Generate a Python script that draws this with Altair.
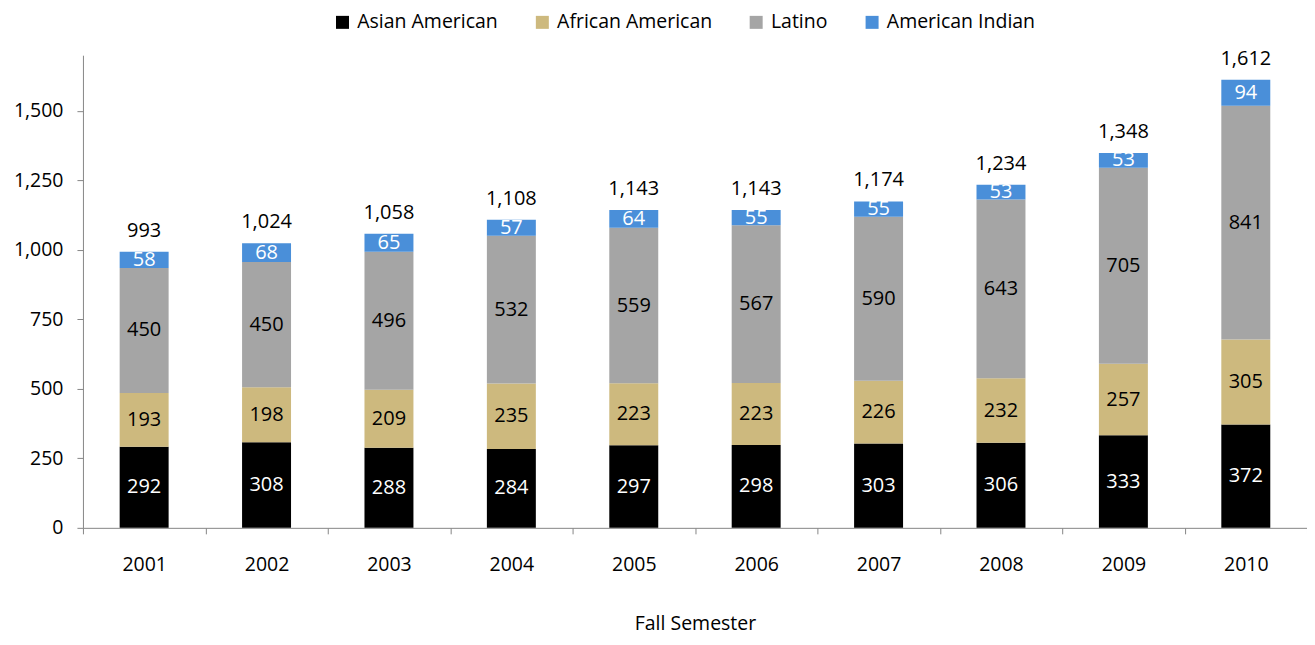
import altair as alt
import pandas as pd

years = ["2001", "2002", "2003", "2004", "2005", "2006", "2007", "2008", "2009", "2010"]
groups = ["Asian American", "African American", "Latino", "American Indian"]
asian = [292, 308, 288, 284, 297, 298, 303, 306, 333, 372]
african = [193, 198, 209, 235, 223, 223, 226, 232, 257, 305]
latino = [450, 450, 496, 532, 559, 567, 590, 643, 705, 841]
amind = [58, 68, 65, 57, 64, 55, 55, 53, 53, 94]
totals = [993, 1024, 1058, 1108, 1143, 1143, 1174, 1234, 1348, 1612]
colors = ["#000000", "#CDB97E", "#A5A5A5", "#4A8FD9"]
label_tone = ["light", "dark", "dark", "light"]
y_ticks = [0, 250, 500, 750, 1000, 1250, 1500]

rows = []
for i, yr in enumerate(years):
    base = 0
    for g, vals, tone in zip(groups, [asian, african, latino, amind], label_tone):
        v = vals[i]
        rows.append(dict(year=yr, group=g, value=v, start=base, end=base + v,
                         mid=base + v / 2, tone=tone))
        base += v
df = pd.DataFrame(rows)
tot = pd.DataFrame({"year": years, "total": totals})

FONT = "Open Sans"
AX = "#868686"
FS = 19.5

x_enc = alt.X(
    "year:N",
    scale=alt.Scale(paddingInner=0, paddingOuter=0),
    axis=alt.Axis(
        title="Fall Semester", labelAngle=0, tickBand="extent",
        labelFontSize=FS, labelFont=FONT, labelColor="#000000",
        titleFontSize=FS, titleFont=FONT, titleFontWeight="normal", titleColor="#000000",
        domainColor=AX, tickColor=AX, tickSize=6, labelPadding=22, titlePadding=40,
    ),
)
y_scale = alt.Scale(domain=[0, 1700], nice=False)

bars = alt.Chart(df).mark_bar(width=alt.RelativeBandSize(0.4)).encode(
    x=x_enc,
    y=alt.Y("start:Q", scale=y_scale,
            axis=alt.Axis(title=None, values=y_ticks, format=",d", grid=False,
                          labelFontSize=FS, labelFont=FONT, labelColor="#000000",
                          domainColor=AX, tickColor=AX, tickSize=6, labelPadding=14)),
    y2="end:Q",
    color=alt.Color("group:N", scale=alt.Scale(domain=groups, range=colors),
                    legend=alt.Legend(orient="none", legendX=250, legendY=-43,
                                      direction="horizontal", title=None,
                                      symbolType="square", symbolSize=169,
                                      symbolStrokeWidth=0, labelFontSize=FS,
                                      labelFont=FONT, labelColor="#000000",
                                      columnPadding=34, labelOffset=5)),
    order=alt.Order("start:Q"),
)

seg_light = alt.Chart(df).transform_filter(alt.datum.tone == "light").mark_text(
    fontSize=20, font=FONT, color="white", baseline="middle").encode(
    x="year:N", y=alt.Y("mid:Q", scale=y_scale), text="value:Q")
seg_dark = alt.Chart(df).transform_filter(alt.datum.tone == "dark").mark_text(
    fontSize=20, font=FONT, color="black", baseline="middle").encode(
    x="year:N", y=alt.Y("mid:Q", scale=y_scale), text="value:Q")
tot_text = alt.Chart(tot).mark_text(fontSize=20, font=FONT, color="black",
                                    baseline="bottom", dy=-11).encode(
    x="year:N", y=alt.Y("total:Q", scale=y_scale), text=alt.Text("total:Q", format=",d"))

chart = alt.layer(bars, seg_light, seg_dark, tot_text).properties(
    width=1225, height=473,
    autosize=alt.AutoSizeParams(type="none"),
    padding={"left": 75, "top": 47, "right": 0, "bottom": 108},
).configure_view(stroke=None)

chart.save("out.html", embed_options={"renderer": "svg", "actions": False})
